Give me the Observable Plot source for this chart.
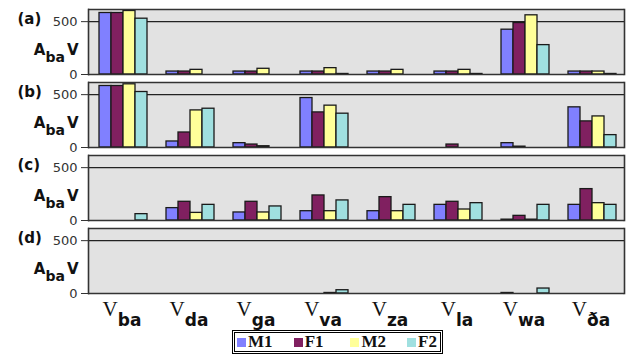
<!DOCTYPE html>
<html><head><meta charset="utf-8">
<script src="https://cdn.jsdelivr.net/npm/d3@7"></script>
<script src="https://cdn.jsdelivr.net/npm/@observablehq/plot@0.6"></script>
<style>
body{margin:0;background:#fff;}
#legend{margin-left:232px;width:211px;height:24px;box-sizing:border-box;border:3px double #000;display:flex;align-items:center;padding-left:2px;font:bold 17px "Liberation Serif",serif;color:#111;}
#legend .item{display:flex;align-items:center;width:56.7px;flex:none;}
#legend .item:last-child{width:auto;}
#legend .sw{width:9px;height:9px;margin-right:2px;}
</style></head><body><div id="chart"></div><div id="legend"></div><script>
const categories = ["ba","da","ga","va","za","la","wa","ða"];
const series = ["M1","F1","M2","F2"];
const panels = ["a","b","c","d"];
const colors = ["#8080ff","#802060","#ffff99","#a0e0e0"];
const yTicks = [0, 500];

const a_M1 = [582, 28, 28, 28, 28, 28, 424, 28];
const a_F1 = [582, 28, 28, 28, 28, 28, 487, 28];
const a_M2 = [601, 44, 54, 60, 44, 44, 560, 28];
const a_F2 = [528, 0, 0, 5, 0, 5, 278, 5];
const b_M1 = [582, 57, 41, 468, 0, 0, 41, 380];
const b_F1 = [582, 142, 28, 332, 0, 28, 8, 247];
const b_M2 = [598, 351, 12, 396, 0, 0, 0, 294];
const b_F2 = [525, 367, 0, 320, 0, 0, 0, 117];
const c_M1 = [0, 117, 76, 88, 88, 148, 8, 148];
const c_F1 = [0, 177, 177, 237, 221, 177, 44, 297];
const c_M2 = [0, 72, 76, 88, 88, 104, 8, 164];
const c_F2 = [60, 148, 133, 190, 148, 164, 148, 148];
const d_M1 = [0, 0, 0, 0, 0, 0, 5, 0];
const d_F1 = [0, 0, 0, 0, 0, 0, 0, 0];
const d_M2 = [0, 0, 0, 5, 0, 0, 0, 0];
const d_F2 = [0, 0, 0, 31, 0, 0, 47, 0];

const values = {
  a: {M1: a_M1, F1: a_F1, M2: a_M2, F2: a_F2},
  b: {M1: b_M1, F1: b_F1, M2: b_M2, F2: b_F2},
  c: {M1: c_M1, F1: c_F1, M2: c_M2, F2: c_F2},
  d: {M1: d_M1, F1: d_F1, M2: d_M2, F2: d_F2}
};
const rows = [];
panels.forEach(p => categories.forEach((c, i) => series.forEach(s => {
  rows.push({panel: p, category: c, series: s, value: values[p][s][i]});
})));

const border = {stroke: "#333", strokeWidth: 1.6};
const plot = Plot.plot({
  width: 634, height: 330,
  marginTop: 9, marginBottom: 37, marginLeft: 85, marginRight: 7,
  style: {fontFamily: "DejaVu Sans, sans-serif", fontSize: "13px", color: "#222", background: "white"},
  fx: {domain: categories, paddingInner: 0, paddingOuter: 0, axis: null},
  fy: {domain: panels, paddingInner: 8/73, paddingOuter: 0, axis: null},
  x: {domain: series, paddingInner: 0, paddingOuter: 0.66, align: 0.6, axis: null},
  y: {domain: [0, 615]},
  color: {domain: series, range: colors},
  marks: [
    Plot.frame({fill: "#e2e2e2", stroke: null, shapeRendering: "crispEdges"}),
    Plot.ruleY([500], {stroke: "#222", strokeWidth: 1.3}),
    Plot.barY(rows, {filter: d => d.value > 0, fx: "category", fy: "panel", x: "series", y: "value", fill: "series", stroke: "#1a1a1a", strokeWidth: 1.3}),
    Plot.ruleY([0], border),
    Plot.ruleY([615], border),
    Plot.frame({anchor: "left", facetAnchor: "left", ...border}),
    Plot.frame({anchor: "right", facetAnchor: "right", ...border}),
    Plot.axisY({anchor: "left", ticks: yTicks, tickSize: 7, tickPadding: 4, label: null, fontSize: 13, stroke: "#333", fill: "#333"}),
    Plot.text(panels, {fy: d => d, fx: () => categories[0], text: d => `(${d})`, frameAnchor: "top-left", dx: -71, dy: 10, textAnchor: "start", lineAnchor: "middle", fontWeight: "bold", fontSize: 15, fill: "#111"}),
    Plot.text(panels, {fy: d => d, fx: () => categories[0], text: () => "A_{ba}V", frameAnchor: "bottom-left", dx: -10, dy: -20, textAnchor: "end", lineAnchor: "bottom", fontWeight: "bold", fontSize: 15, fill: "#111"}),
    Plot.text(categories, {fx: d => d, fy: () => panels[panels.length - 1], text: d => `V_{${d}}`, frameAnchor: "bottom", dy: 22, textAnchor: "middle", lineAnchor: "bottom", fontSize: 21, fontFamily: "Liberation Serif, serif", fill: "#111"})
  ]
});
document.getElementById("chart").appendChild(plot);

// turn "X_{sub}Y" labels into tspans with subscripts
plot.querySelectorAll("text").forEach(t => {
  const s = t.textContent;
  if (!s.includes("_{")) return;
  const isCat = s.startsWith("V_");
  const parts = s.split(/_\{([^}]*)\}/);
  t.textContent = "";
  const shift = isCat ? 10 : 7;
  parts.forEach((p, i) => {
    if (!p) return;
    const ts = document.createElementNS("http://www.w3.org/2000/svg", "tspan");
    ts.textContent = p;
    if (i % 2 === 1) {
      ts.setAttribute("font-family", "DejaVu Sans, sans-serif");
      ts.setAttribute("font-weight", "bold");
      ts.setAttribute("font-size", isCat ? 17 : 14);
      ts.setAttribute("dy", shift);
    } else if (i > 0) {
      ts.setAttribute("dy", -shift);
      ts.setAttribute("dx", 2);
    }
    t.appendChild(ts);
  });
});

// legend
const legend = d3.select("#legend");
series.forEach((s, i) => {
  const it = legend.append("div").attr("class", "item");
  it.append("div").attr("class", "sw").style("background", colors[i]);
  it.append("span").text(s);
});
</script></body></html>
